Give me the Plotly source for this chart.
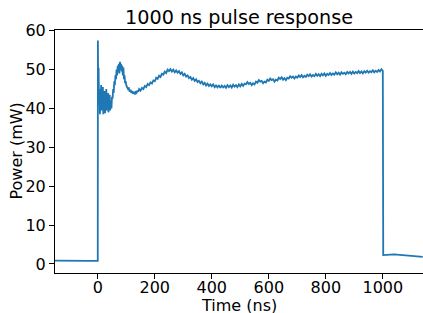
import plotly.graph_objects as go

# ---- data ----
time_pre = [-150, -120, -90, -60, -30, -1]
power_pre = [0.85, 0.88, 0.83, 0.86, 0.82, 0.80]

time_rise = [0, 0.5, 1.5, 3, 4.5, 6, 7.5, 9, 10.5, 12, 13.5, 15, 16.5, 18, 19.5,
             21, 22.5, 24, 25.5, 27, 28.5, 30, 31.5, 33, 34.5, 36, 37.5, 39,
             40.5, 42, 43.5, 45, 46.5, 48, 50, 52, 54, 56, 58, 60, 62, 64, 66,
             68, 70, 72, 74, 76, 78, 80, 82, 84, 86, 88, 90, 92, 94, 96, 98,
             100, 103, 106, 109, 112, 115, 118, 121, 124, 127, 130, 133, 136,
             139, 142, 145]
power_rise = [0.8, 57.5, 44, 50.5, 41, 45, 38.5, 43.5, 40, 46, 39.5, 44, 41,
              45.5, 38.5, 43, 40.5, 44.5, 38.8, 42.5, 41, 45, 39.5, 43, 40.5,
              44, 39, 42.5, 41.5, 43.5, 39.5, 42, 41, 40, 43, 42.5, 45, 44, 47,
              46, 48.5, 47.5, 50, 48.5, 51, 49.5, 51.5, 49, 52, 50, 51.5, 49.5,
              51, 48.5, 50.5, 47.5, 48.5, 46.5, 47, 46, 45.5, 45, 45.2, 44.3,
              44.8, 44, 44.5, 43.8, 44.3, 43.6, 44.2, 44.0, 44.6, 44.3, 45.0]

# 150 ns .. 1000 ns in 5 ns steps
time_hold = list(range(150, 1001, 5))
power_hold = [
    44.6, 45.3, 45.0, 45.8, 45.5, 46.3, 46.0, 46.7, 46.4, 47.2,   # 150-195
    47.0, 47.9, 47.6, 48.4, 48.1, 48.9, 48.7, 49.5, 49.1, 50.0,   # 200-245
    49.6, 50.1, 49.5, 50.0, 49.3, 49.8, 49.2, 49.6, 48.9, 49.3,   # 250-295
    48.5, 48.9, 48.2, 48.5, 47.8, 48.1, 47.4, 47.8, 47.1, 47.5,   # 300-345
    46.8, 47.1, 46.5, 46.9, 46.2, 46.6, 45.9, 46.4, 45.8, 46.2,   # 350-395
    45.7, 46.2, 45.5, 45.9, 45.4, 46.0, 45.3, 45.9, 45.4, 45.8,   # 400-445
    45.3, 46.0, 45.5, 45.9, 45.4, 46.1, 45.6, 46.0, 45.5, 46.2,   # 450-495
    45.7, 46.3, 45.8, 46.4, 46.2, 46.8, 46.3, 46.6, 46.0, 46.5,   # 500-545
    46.2, 46.9, 46.6, 47.3, 46.9, 47.1, 46.5, 46.9, 46.7, 47.4,   # 550-595
    47.1, 47.7, 47.3, 47.5, 46.9, 47.4, 47.2, 47.9, 47.6, 48.0,   # 600-645
    47.4, 47.8, 47.3, 47.9, 47.7, 48.3, 47.9, 48.2, 47.7, 48.2,   # 650-695
    47.9, 48.5, 48.1, 48.6, 48.0, 48.4, 48.1, 48.7, 48.3, 48.8,   # 700-745
    48.2, 48.6, 48.3, 48.9, 48.4, 48.8, 48.3, 48.9, 48.5, 49.0,   # 750-795
    48.4, 48.9, 48.6, 49.1, 48.6, 49.0, 48.7, 49.3, 48.8, 49.2,   # 800-845
    48.7, 49.3, 48.9, 49.2, 48.8, 49.4, 49.0, 49.4, 48.9, 49.5,   # 850-895
    49.0, 49.4, 49.1, 49.6, 49.1, 49.5, 49.0, 49.6, 49.2, 49.7,   # 900-945
    49.2, 49.6, 49.3, 49.8, 49.3, 49.7, 49.4, 49.9, 49.5, 50.1,   # 950-995
    49.7,                                                         # 1000
]

time_fall = [1001.5, 1040, 1080, 1110, 1140]
power_fall = [2.3, 2.45, 2.2, 2.0, 1.85]

x_ticks = [0, 200, 400, 600, 800, 1000]
y_ticks = [0, 10, 20, 30, 40, 50, 60]

title_text = "1000 ns pulse response"
x_label = "Time (ns)"
y_label = "Power (mW)"

time = time_pre + time_rise + time_hold + time_fall
power = power_pre + power_rise + power_hold + power_fall

FONT = "DejaVu Sans"

fig = go.Figure(go.Scatter(x=time, y=power, mode="lines",
                           line=dict(color="#1f77b4", width=1.8)))

fig.update_layout(
    width=423, height=313,
    margin=dict(l=55, r=0, t=30, b=40),
    paper_bgcolor="white", plot_bgcolor="white",
    font=dict(family=FONT, size=16, color="black"),
    showlegend=False,
    title=dict(text=title_text, font=dict(size=19.2, color="black"),
               x=0.5, xref="paper", xanchor="center",
               y=1 - 17 / 313, yref="container", yanchor="middle"),
)
fig.update_xaxes(range=[-150, 1141], tickvals=x_ticks, ticks="outside", ticklen=5,
                 tickcolor="black", showline=True, linecolor="black", linewidth=1,
                 mirror=True, showgrid=False, zeroline=False, ticklabelstandoff=-5,
                 automargin=False)
fig.update_yaxes(range=[-2.32, 60.18], tickvals=y_ticks, ticks="outside", ticklen=5,
                 tickcolor="black", showline=True, linecolor="black", linewidth=1,
                 showgrid=False, zeroline=False, automargin=False)

# axis titles as annotations so they sit exactly where the reference has them
fig.add_annotation(text=x_label, xref="paper", yref="paper", x=0.5, y=0,
                   xanchor="center", yanchor="middle", yshift=-32,
                   showarrow=False, font=dict(size=16, color="black"))
fig.add_annotation(text=y_label, xref="paper", yref="paper", x=0, y=0.5,
                   xanchor="center", yanchor="middle", xshift=-39, textangle=-90,
                   showarrow=False, font=dict(size=16, color="black"))

# remove the default 8px page margin so the figure fills the window exactly
fig.write_html("out.html",
               config={"displayModeBar": False},
               post_script="document.body.style.margin='0';"
                           "document.body.style.overflow='hidden';")
